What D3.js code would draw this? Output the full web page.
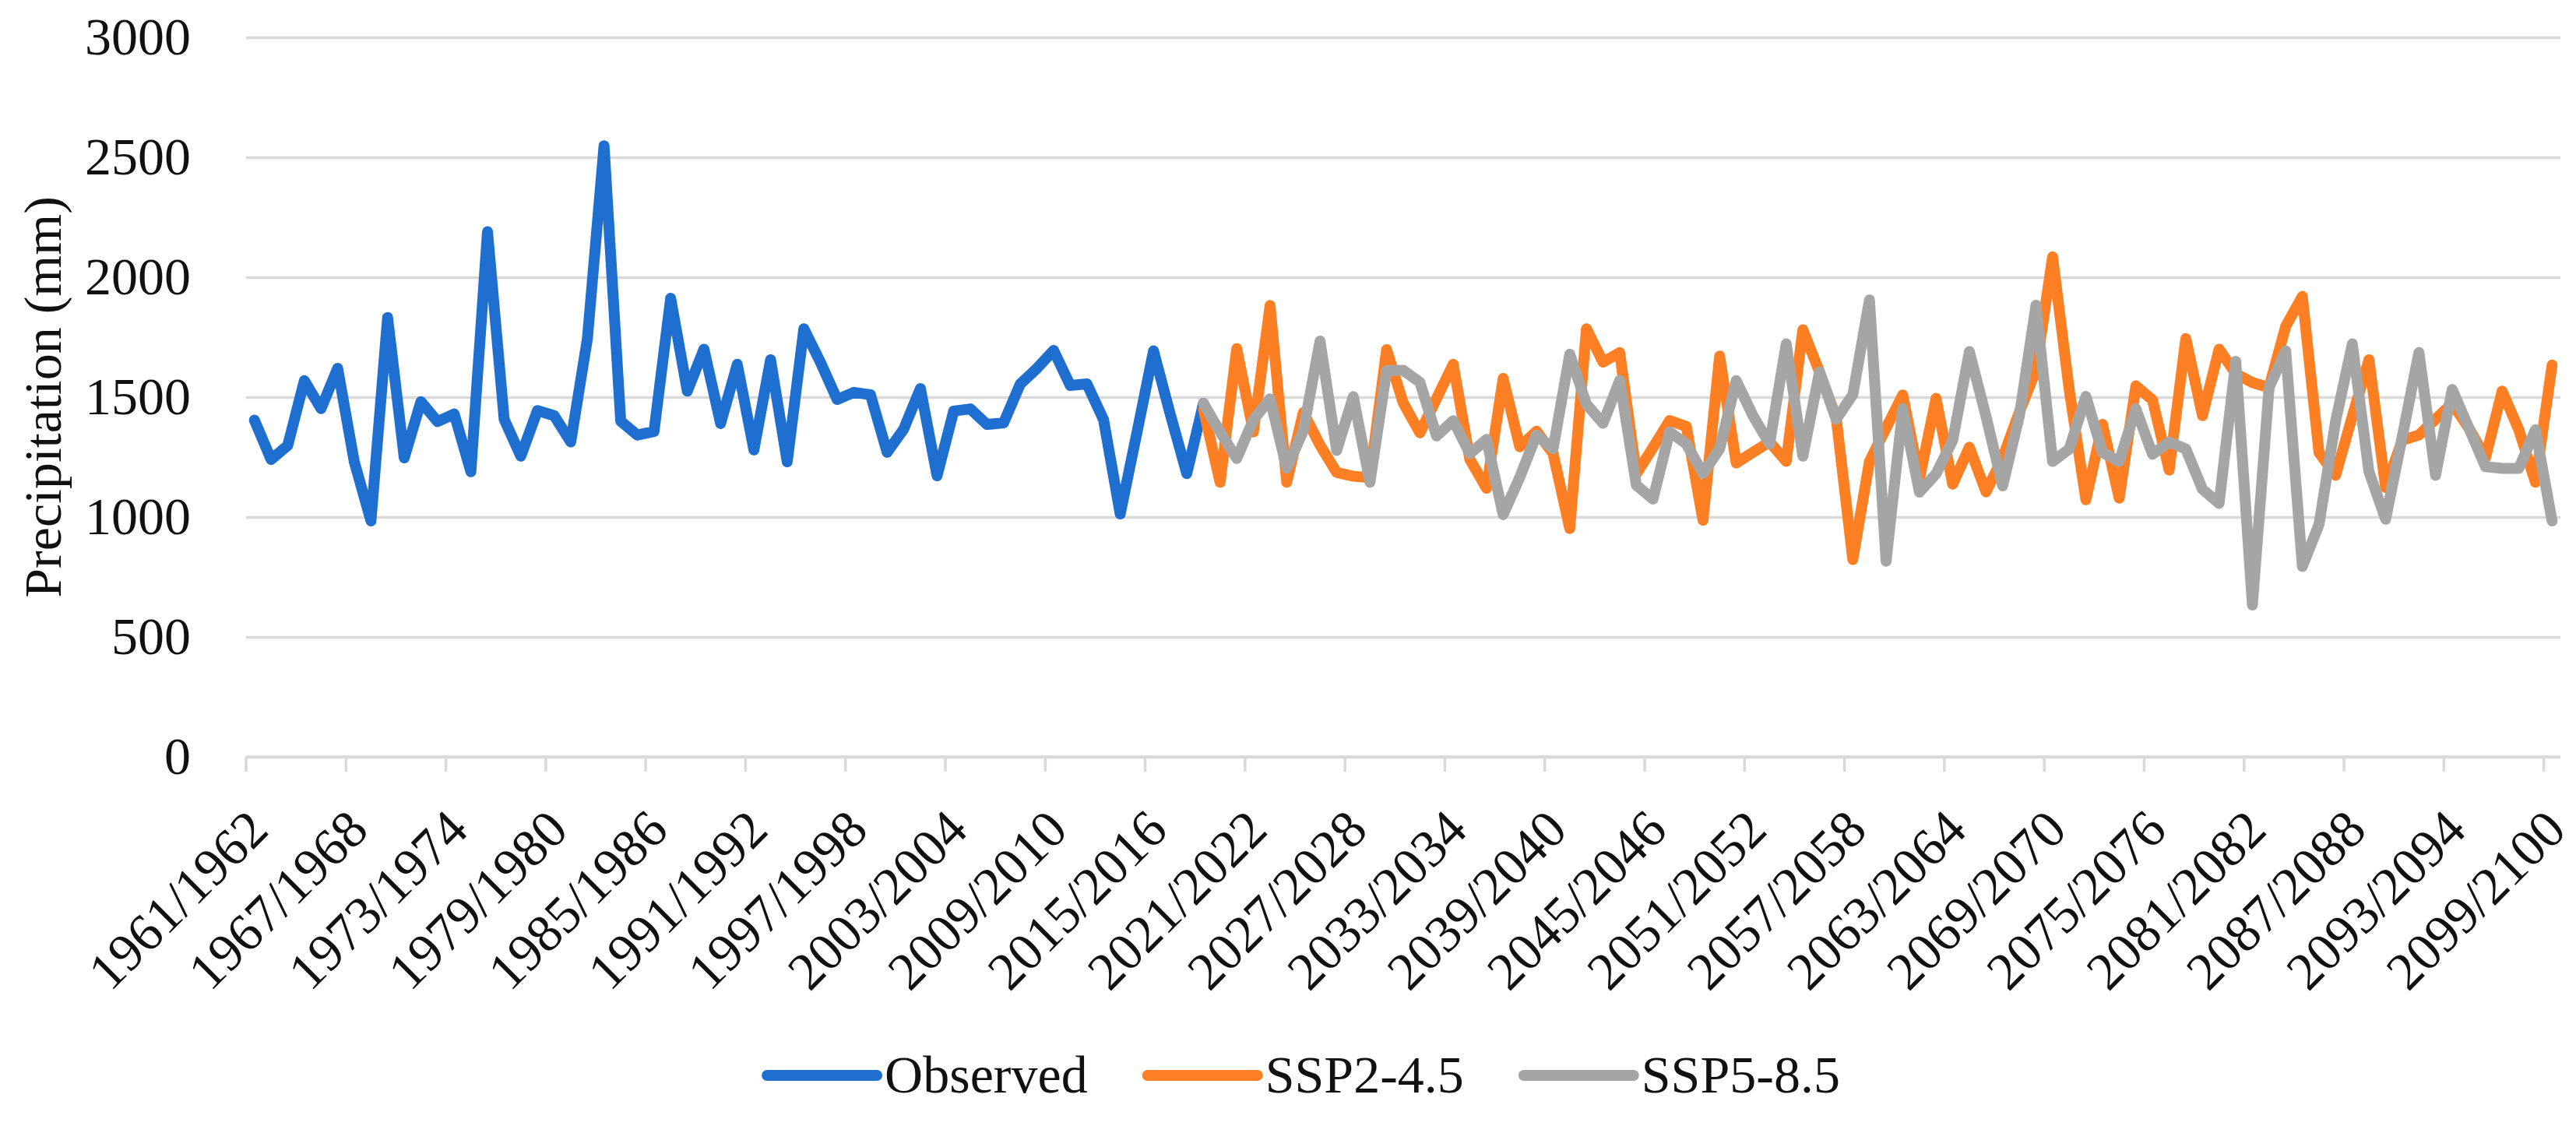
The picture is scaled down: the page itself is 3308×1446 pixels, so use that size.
<!DOCTYPE html>
<html>
<head>
<meta charset="utf-8">
<script src="https://cdn.jsdelivr.net/npm/d3@7"></script>
<style>
  body { margin: 0; background: #fff; }
  text { font-family: "Liberation Serif", "Times New Roman", serif; fill: #111; }
</style>
</head>
<body>
<svg id="chart"></svg>
<script>
// ---- data ----
const categories = d3.range(1961, 2100).map(y => `${y}/${y + 1}`);
const labelEvery = 6;
const yTicks = [0, 500, 1000, 1500, 2000, 2500, 3000];

const observedStart = "1961/1962";
const observed = [1404, 1240, 1298, 1569, 1452, 1620, 1230, 984, 1832, 1247,
    1481, 1398, 1430, 1189, 2190, 1408, 1254, 1444, 1423, 1313,
    1744, 2548, 1400, 1342, 1357, 1912, 1525, 1700, 1390, 1637,
    1280, 1656, 1230, 1785, 1645, 1490, 1520, 1510, 1270, 1367,
    1536, 1172, 1442, 1451, 1386, 1393, 1555, 1620, 1695, 1549,
    1555, 1406, 1013, 1350, 1693, 1430, 1181, 1474];

const scenarioStart = "2018/2019";
const ssp245 = [1450, 1145, 1702, 1355, 1882, 1145, 1436, 1300, 1186, 1170,
    1165, 1698, 1476, 1351, 1494, 1637, 1240, 1120, 1578, 1293,
    1358, 1265, 952, 1785, 1646, 1686, 1180, 1290, 1402, 1378,
    987, 1671, 1225, 1270, 1313, 1232, 1781, 1605, 1415, 823,
    1232, 1371, 1509, 1159, 1495, 1137, 1291, 1105, 1247, 1437,
    1613, 2085, 1530, 1072, 1386, 1079, 1547, 1488, 1196, 1744,
    1423, 1700, 1598, 1561, 1540, 1795, 1920, 1269, 1174, 1420,
    1656, 1123, 1320, 1342, 1408, 1474, 1371, 1247, 1525, 1364,
    1145, 1634];
const ssp585 = [1474, 1355, 1244, 1405, 1493, 1204, 1360, 1734, 1278, 1502,
    1145, 1610, 1612, 1562, 1338, 1402, 1264, 1324, 1010, 1166,
    1342, 1285, 1679, 1471, 1391, 1570, 1133, 1075, 1355, 1305,
    1182, 1284, 1569, 1423, 1305, 1722, 1254, 1605, 1408, 1510,
    1905, 816, 1452, 1104, 1180, 1320, 1690, 1420, 1130, 1420,
    1883, 1232, 1284, 1503, 1269, 1232, 1452, 1262, 1313, 1284,
    1116, 1057, 1649, 633, 1540, 1693, 794, 969, 1400, 1722,
    1189, 991, 1335, 1686, 1174, 1532, 1371, 1210, 1203, 1203,
    1364, 984];

const seriesNames = ["Observed", "SSP2-4.5", "SSP5-8.5"];
const seriesColors = ["#1f6fd1", "#fd7f23", "#a5a5a5"];

// ---- layout ----
const width = 3308, height = 1446;
const margin = {top: 48, right: 20, bottom: 474, left: 316};
const fontSize = 68;
const gridColor = "#d9d9d9";

const svg = d3.select("#chart").attr("width", width).attr("height", height);

const x = d3.scaleBand().domain(categories).range([margin.left, width - margin.right]);
const y = d3.scaleLinear().domain([0, 3000]).range([height - margin.bottom, margin.top]);
const bw = x.bandwidth();
const plotW = width - margin.right - margin.left;

// y axis with gridlines
const yAxis = svg.append("g")
    .attr("transform", `translate(${margin.left},0)`)
    .call(d3.axisLeft(y).tickValues(yTicks).tickFormat(d3.format("d"))
        .tickSize(-plotW).tickPadding(71));
yAxis.select(".domain").remove();
yAxis.selectAll("line").attr("stroke", gridColor).attr("stroke-width", 3.5);
yAxis.selectAll("text").style("font-size", fontSize + "px").attr("fill", "#111");

// x axis line and ticks at band edges
const xg = svg.append("g");
xg.append("line")
    .attr("x1", margin.left).attr("x2", width - margin.right)
    .attr("y1", y(0)).attr("y2", y(0))
    .attr("stroke", gridColor).attr("stroke-width", 4);
const tickCats = categories.filter((d, i) => i % labelEvery === 0 && i > 0);
xg.selectAll(".tick").data([categories[0], ...tickCats]).join("line")
    .attr("x1", d => x(d)).attr("x2", d => x(d))
    .attr("y1", y(0)).attr("y2", y(0) + 19)
    .attr("stroke", gridColor).attr("stroke-width", 3.5);

// rotated category labels
const labelCats = categories.filter((d, i) => i % labelEvery === 0);
xg.selectAll("text").data(labelCats).join("text")
    .attr("transform", d => `translate(${x(d) + bw / 2 + 4},${y(0) + 80}) rotate(-45)`)
    .attr("text-anchor", "end")
    .attr("dy", "0.35em")
    .style("font-size", fontSize + "px")
    .text(d => d);

// y title
svg.append("text")
    .attr("transform", `translate(54,${(y(0) + y(3000)) / 2}) rotate(-90)`)
    .attr("text-anchor", "middle")
    .attr("dy", "0.35em")
    .style("font-size", fontSize + "px")
    .text("Precipitation (mm)");

// series
const toPoints = (vals, start) => {
    const s = categories.indexOf(start);
    return vals.map((v, i) => ({cat: categories[s + i], v}));
};
const series = [
    toPoints(observed, observedStart),
    toPoints(ssp245, scenarioStart),
    toPoints(ssp585, scenarioStart)
];
const line = d3.line().x(d => x(d.cat) + bw / 2).y(d => y(d.v));

svg.append("g").selectAll("path").data(series).join("path")
    .attr("d", line)
    .attr("fill", "none")
    .attr("stroke", (d, i) => seriesColors[i])
    .attr("stroke-width", 14)
    .attr("stroke-linejoin", "round")
    .attr("stroke-linecap", "round");

// legend
const legend = svg.append("g");
const legendY = 1381, swatch = 141, gapText = 10, gapItem = 77;
const items = legend.selectAll("g").data(seriesNames).join("g");
items.append("line")
    .attr("x1", 0).attr("x2", swatch).attr("y1", 0).attr("y2", 0)
    .attr("stroke", (d, i) => seriesColors[i])
    .attr("stroke-width", 14)
    .attr("stroke-linecap", "round");
items.append("text")
    .attr("x", swatch + gapText)
    .attr("dy", "0.33em")
    .style("font-size", fontSize + "px")
    .text(d => d);
let offs = [], pos = 0;
items.each(function () {
    offs.push(pos);
    pos += swatch + gapText + this.querySelector("text").getComputedTextLength() + gapItem;
});
const total = pos - gapItem;
const startX = 1674 - total / 2;
items.attr("transform", (d, i) => `translate(${startX + offs[i]},${legendY})`);
</script>
</body>
</html>
